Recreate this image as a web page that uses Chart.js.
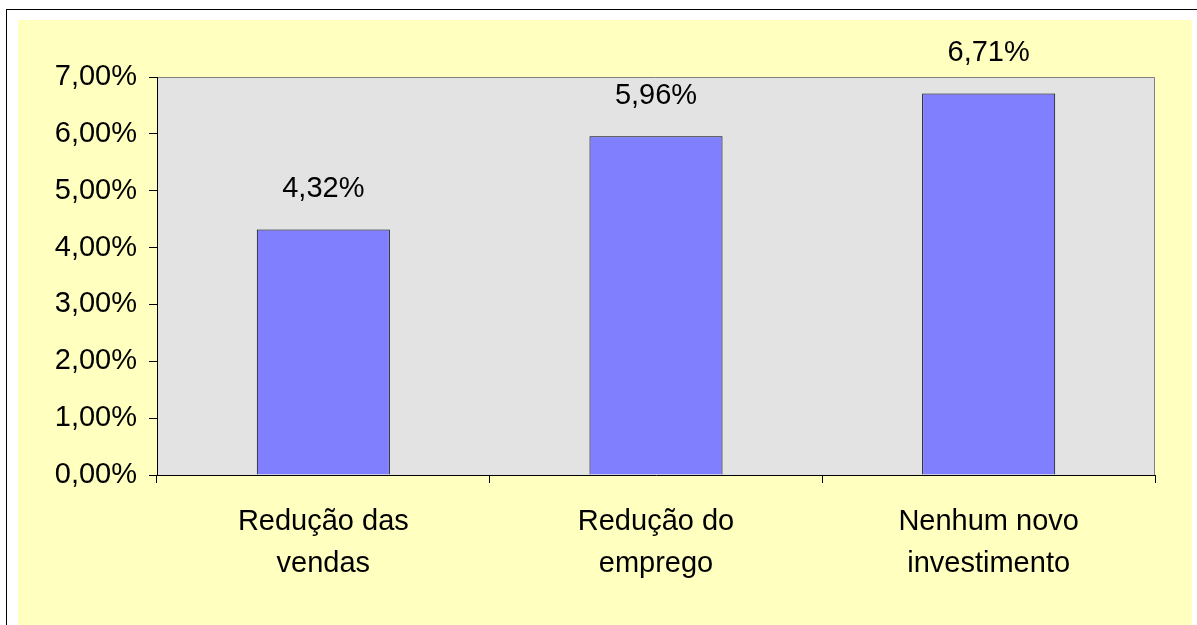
<!DOCTYPE html>
<html>
<head>
<meta charset="utf-8">
<script src="https://cdn.jsdelivr.net/npm/chart.js@4"></script>
<style>
    html, body { margin: 0; padding: 0; background: #FFFFFF; }
    #wrap { width: 1197px; height: 625px; }
</style>
</head>
<body>
<div id="wrap"><canvas id="chart" width="1197" height="625"></canvas></div>
<script>
const categories = [["Redução das", "vendas"], ["Redução do", "emprego"], ["Nenhum novo", "investimento"]]
const values = [4.32, 5.96, 6.71]
const yTicks = [0, 1, 2, 3, 4, 5, 6, 7]

const fmt = (v) => v.toFixed(2).replace('.', ',') + '%'

const frame = {
    id: 'frame',
    beforeDraw(chart) {
        const {ctx, chartArea: {top, bottom, left, right}} = chart
        ctx.save()
        ctx.fillStyle = '#FFFFFF'
        ctx.fillRect(0, 0, chart.width, chart.height)
        ctx.strokeStyle = '#000000'
        ctx.lineWidth = 1
        ctx.strokeRect(6.5, 9.5, 1200, 700)
        ctx.fillStyle = '#FFFFC0'
        ctx.fillRect(18, 20, 1174, 610)
        ctx.fillStyle = '#E3E3E3'
        ctx.fillRect(left, top, right - left, bottom - top)
        ctx.strokeStyle = '#808080'
        ctx.beginPath()
        ctx.moveTo(left, top + 0.5)
        ctx.lineTo(right - 0.5, top + 0.5)
        ctx.lineTo(right - 0.5, bottom)
        ctx.stroke()
        ctx.restore()
    },
    afterDatasetsDraw(chart) {
        const {ctx} = chart
        ctx.save()
        ctx.fillStyle = '#000000'
        ctx.font = "29px 'Liberation Sans', Arial, sans-serif"
        ctx.textAlign = 'center'
        ctx.textBaseline = 'middle'
        chart.getDatasetMeta(0).data.forEach((bar, i) => {
            ctx.fillText(fmt(values[i]), bar.x, bar.y - 40)
        })
        ctx.restore()
    }
}

new Chart(document.getElementById('chart'), {
    type: 'bar',
    data: {
        labels: categories,
        datasets: [{
            data: values,
            backgroundColor: '#8080FF',
            borderColor: '#000000',
            borderWidth: 1,
            barPercentage: 0.4,
            categoryPercentage: 1,
        }]
    },
    options: {
        responsive: false,
        animation: false,
        layout: {padding: {left: 0, top: 77, right: 42, bottom: 0}},
        plugins: {legend: {display: false}, tooltip: {enabled: false}},
        scales: {
            x: {
                afterFit: (s) => { s.height = 150 },
                grid: {display: true, offset: true, drawOnChartArea: false, tickLength: 8, color: '#000000'},
                border: {display: true, color: '#000000'},
                ticks: {
                    color: '#000000',
                    padding: 18,
                    font: {size: 29, lineHeight: 1.45, family: "'Liberation Sans', Arial, sans-serif"},
                },
            },
            y: {
                min: 0,
                max: 7,
                afterFit: (s) => { s.width = 157 },
                afterBuildTicks: (s) => { s.ticks = yTicks.map(v => ({value: v})) },
                grid: {display: true, drawOnChartArea: false, tickLength: 8, color: '#000000'},
                border: {display: true, color: '#000000'},
                ticks: {
                    color: '#000000',
                    padding: 12,
                    font: {size: 29, family: "'Liberation Sans', Arial, sans-serif"},
                    callback: (v) => fmt(v),
                },
            }
        }
    },
    plugins: [frame]
})
</script>
</body>
</html>
